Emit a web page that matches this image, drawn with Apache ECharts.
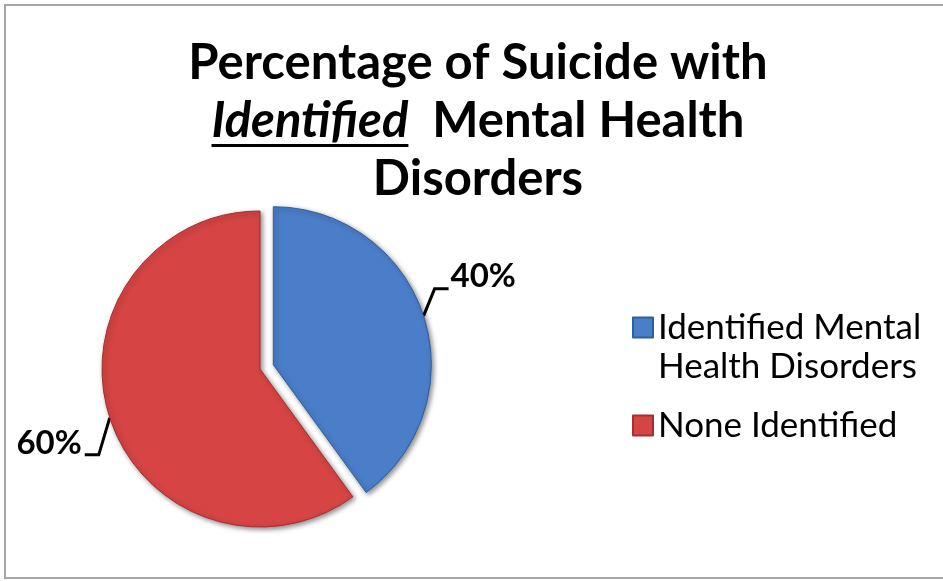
<!DOCTYPE html>
<html>
<head>
<meta charset="utf-8">
<script src="https://cdn.jsdelivr.net/npm/echarts@6/dist/echarts.min.js"></script>
<style>
  html, body { margin: 0; padding: 0; background: #ffffff; }
  #chart { width: 943px; height: 581px; }
</style>
</head>
<body>
<div id="chart"></div>
<script>
// Pie slices
const categories = ['Identified Mental Health Disorders', 'None Identified'];
const shares = [40, 60];
const sliceColors = ['#4a7ec8', '#d64444'];
const edgeColors = ['#2f5f9e', '#a52e2e'];
// Legend text (wrapped as drawn; the leading blank line keeps the key beside the first line)
const legendText = ['\nIdentified Mental\nHealth Disorders', 'None Identified'];

// Title lines
const titleLine1 = 'Percentage of Suicide with';
const titleEmph = 'Identified';
const titleRest = '  Mental Health';
const titleLine3 = 'Disorders';

const FONT = 'Lato, "Open Sans", sans-serif';
const titleSize = 49;
const titleLineH = 58;
const titleX = 478;
const titleTop = 34;
const legendLineH = 39;

// pie geometry
const pieCenter = [260, 369];
const pieRadius = 158;
const explode = 14;

// measure the emphasised word so it can be underlined
function measure(text, font) {
  const c = document.createElement('canvas').getContext('2d');
  c.font = font;
  return c.measureText(text).width;
}
const wEmph = measure(titleEmph, 'italic bold ' + titleSize + 'px ' + FONT);
const wRest = measure(titleRest, 'bold ' + titleSize + 'px ' + FONT);
const line2Left = titleX - (wEmph + wRest) / 2;
const underlineY = titleTop + titleLineH + titleLineH / 2 + 0.387 * titleSize + 4;

// the first slice is pulled out along its bisector
const total = shares.reduce(function (a, b) { return a + b; }, 0);
const midAngle = Math.PI * shares[0] / total;
const pulledCenter = [pieCenter[0] + explode * Math.sin(midAngle), pieCenter[1] - explode * Math.cos(midAngle)];

function labelPlacement(p) {
  const pts = p.labelLinePoints;
  if (!pts) return {};
  const s = pts[0];
  const toRight = pts[pts.length - 1][0] > s[0];
  if (toRight) {
    const a = [s[0] + 11, s[1] - 27];
    const b = [a[0] + 14, a[1]];
    return { x: b[0] + 2, y: b[1] - 12, align: 'left', verticalAlign: 'middle', labelLinePoints: [s, a, b] };
  }
  const a = [s[0] - 11, s[1] + 37];
  const b = [a[0] - 14, a[1]];
  return { x: b[0] - 3, y: b[1] - 11, align: 'right', verticalAlign: 'middle', labelLinePoints: [s, a, b] };
}

function sliceSeries(showIndex, center) {
  return {
    type: 'pie',
    center: center,
    radius: pieRadius,
    startAngle: 90,
    clockwise: true,
    emphasis: { disabled: true },
    label: {
      show: true,
      position: 'outside',
      formatter: '{d}%',
      fontFamily: FONT,
      fontWeight: 'bold',
      fontSize: 33,
      color: '#000',
      overflow: 'none'
    },
    labelLine: {
      show: true,
      length: 20,
      length2: 12,
      lineStyle: { color: '#000', width: 3 }
    },
    labelLayout: labelPlacement,
    data: categories.map(function (name, i) {
      if (i !== showIndex) {
        return {
          name: '',
          value: shares[i],
          label: { show: false },
          labelLine: { show: false },
          itemStyle: { color: 'rgba(0,0,0,0)', borderWidth: 0, shadowBlur: 0 },
          silent: true
        };
      }
      return {
        name: name,
        value: shares[i],
        itemStyle: {
          color: sliceColors[i],
          borderColor: edgeColors[i],
          borderWidth: 1,
          shadowColor: 'rgba(0,0,0,0.45)',
          shadowBlur: 5,
          shadowOffsetX: 2,
          shadowOffsetY: 2
        }
      };
    })
  };
}

const chart = echarts.init(document.getElementById('chart'), null, { renderer: 'canvas' });

const option = {
  backgroundColor: '#ffffff',
  animation: false,
  title: {
    text: '{b|' + titleLine1 + '}\n{i|' + titleEmph + '}{b|' + titleRest + '}\n{b|' + titleLine3 + '}',
    left: titleX,
    top: titleTop,
    textAlign: 'center',
    padding: 0,
    textStyle: {
      rich: {
        b: { fontFamily: FONT, fontWeight: 'bold', fontSize: titleSize, lineHeight: titleLineH, color: '#000' },
        i: { fontFamily: FONT, fontWeight: 'bold', fontStyle: 'italic', fontSize: titleSize, lineHeight: titleLineH, color: '#000' }
      }
    }
  },
  legend: {
    orient: 'vertical',
    left: 627,
    top: 264,
    itemWidth: 20,
    itemHeight: 20,
    itemGap: 20,
    icon: 'rect',
    selectedMode: false,
    formatter: function (name) { return legendText[categories.indexOf(name)]; },
    data: categories.slice(),
    textStyle: { fontFamily: FONT, fontSize: 35, lineHeight: legendLineH, color: '#000' }
  },
  graphic: [
    {
      type: 'rect',
      shape: { x: 5, y: 5, width: 960, height: 573 },
      style: { fill: 'none', stroke: '#a6a6a6', lineWidth: 2 },
      silent: true
    },
    {
      type: 'rect',
      shape: { x: line2Left, y: underlineY, width: wEmph, height: 3 },
      style: { fill: '#000' },
      silent: true
    }
  ],
  series: [
    sliceSeries(1, pieCenter),
    sliceSeries(0, pulledCenter)
  ]
};

chart.setOption(option);
</script>
</body>
</html>
